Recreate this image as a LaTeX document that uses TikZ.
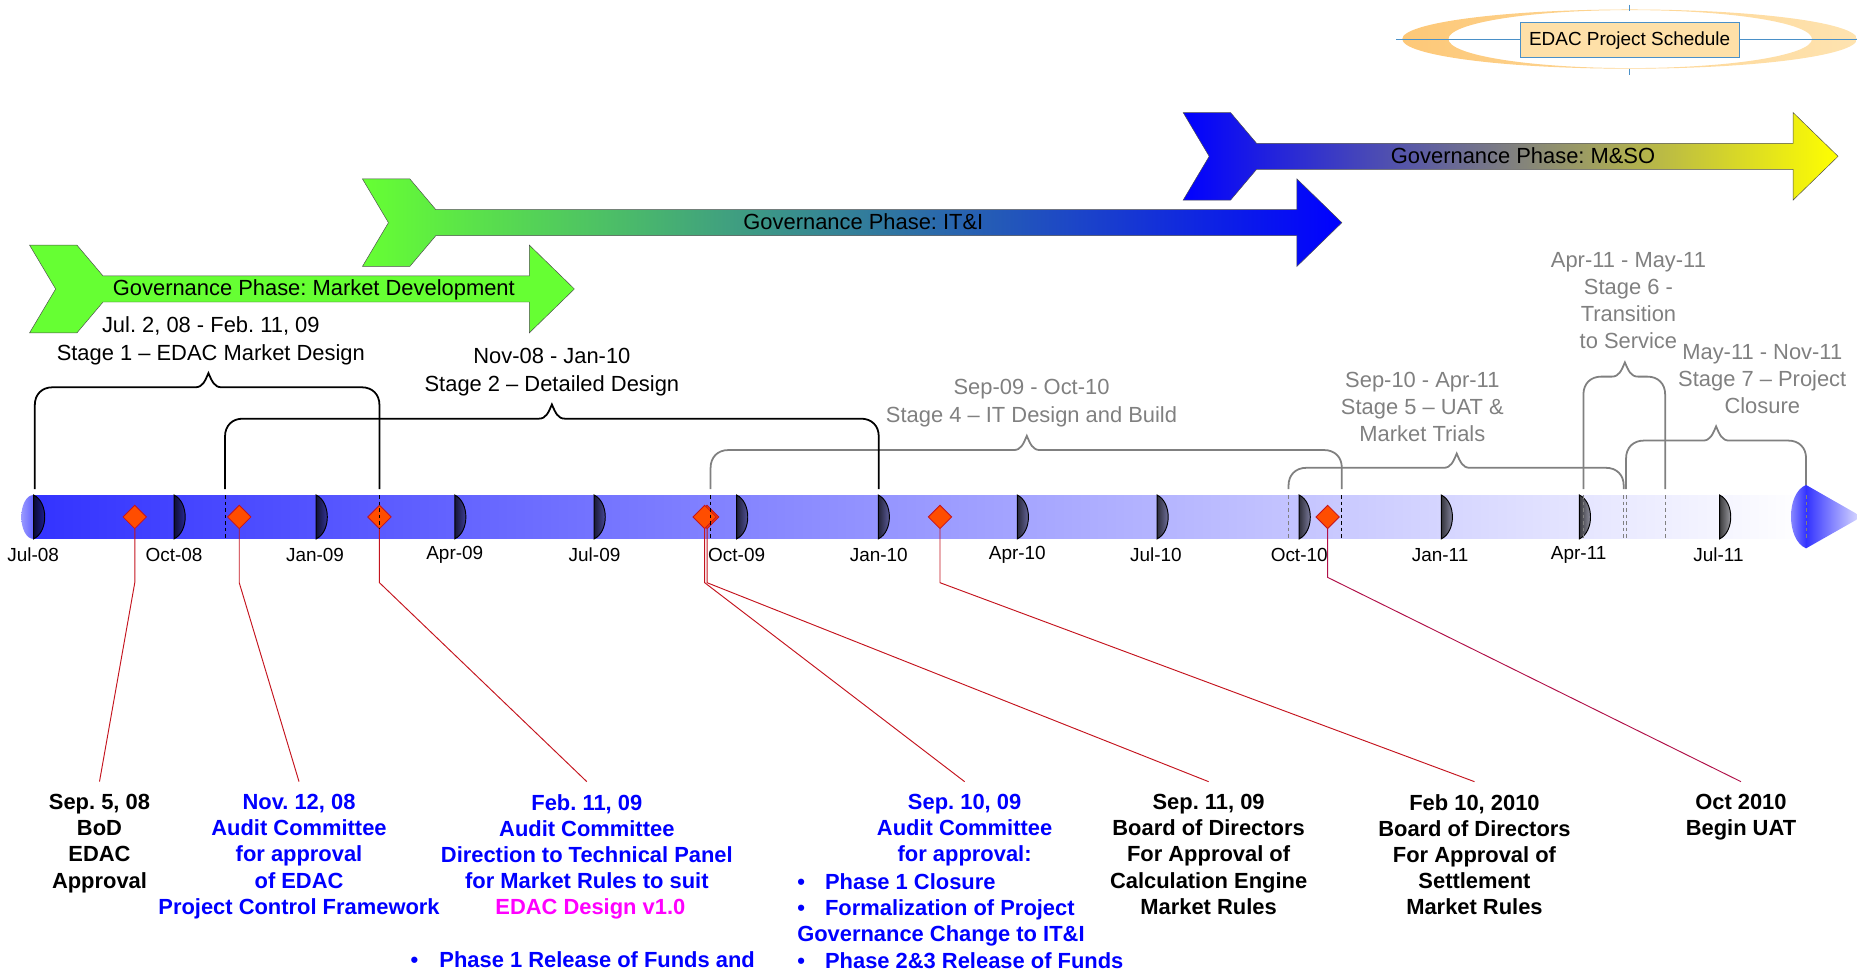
\documentclass[tikz,border=0pt]{standalone}
\usepackage{fontspec}
\setmainfont{Liberation Sans}
\frenchspacing
\usetikzlibrary{shapes.geometric, positioning}
\definecolor{barblue}{HTML}{3333FF}
\definecolor{govgreen}{HTML}{66FF33}
\definecolor{markred}{HTML}{FF4D00}
\definecolor{leadred}{HTML}{C4141E}
\definecolor{leadcrimson}{HTML}{B01048}
\definecolor{edacpink}{HTML}{FF00FF}
\definecolor{stagegray}{HTML}{808080}
\definecolor{ringorange}{HTML}{FDC878}
\definecolor{ringpale}{HTML}{FEE3B0}
\definecolor{titleblue}{HTML}{4A90C8}
\definecolor{titlefill}{HTML}{FEE0A8}
\newcommand{\govarrow}[5]{%
  \shadedraw[draw=black!70,line width=0.4pt,left color=#4,right color=#5]
    (#1,#3-37) -- (#1+40,#3-37) -- (#1+62,#3-11) -- (#2-38,#3-11) -- (#2-38,#3-37)
    -- (#2,#3) -- (#2-38,#3+37) -- (#2-38,#3+11) -- (#1+62,#3+11) -- (#1+40,#3+37)
    -- (#1,#3+37) -- (#1+22,#3) -- cycle;}
\newcommand{\stagebrace}[5]{%
  \draw[#5,line width=1.5pt] (#1,413) -- (#1,#4+15)
    .. controls (#1,#4+6) and (#1+6,#4) .. (#1+15,#4) -- (#3-11,#4)
    .. controls (#3-5,#4) and (#3-3,#4-5) .. (#3,#4-12)
    .. controls (#3+3,#4-5) and (#3+5,#4) .. (#3+11,#4) -- (#2-15,#4)
    .. controls (#2-6,#4) and (#2,#4+6) .. (#2,#4+15) -- (#2,413);}
\tikzset{
  basefont/.style={font=\fontsize{18.5}{22.7}\selectfont},
  govtext/.style={basefont,inner sep=0pt},
  stagetext/.style={basefont,align=center,inner sep=0pt},
  monthlabel/.style={font=\fontsize{16}{19}\selectfont,inner sep=0pt},
  milestone/.style={font=\bfseries\fontsize{18.5}{22.1}\selectfont,align=center,anchor=north,inner xsep=0pt,inner ysep=10.5pt},
  markdiamond/.style={diamond,draw=leadred,line width=0.7pt,fill=markred,minimum width=20pt,minimum height=20pt,inner sep=0pt},
  leader/.style={leadred,line width=0.8pt},
  stagedash/.style={line width=0.7pt,dash pattern=on 3pt off 2.5pt}
}
\begin{document}
\begin{tikzpicture}[x=1pt,y=-1pt]
  \useasboundingbox (0,0) rectangle (1568,820);
  \clip (0,0) rectangle (1568,820);
  % title badge
  \path[even odd rule,left color=ringorange,middle color=ringpale!40!white,right color=ringpale]
    (1376,33) ellipse [x radius=192,y radius=25] (1376.5,33) ellipse [x radius=153.5,y radius=24.5];
  \coordinate (titleL) at (1179,33);
  \coordinate (titleR) at (1568,33);
  \coordinate (titleT) at (1375.6,4);
  \coordinate (titleTb) at (1375.6,9);
  \coordinate (titleB) at (1375.6,58);
  \coordinate (titleBb) at (1375.6,63);
  \draw[titleblue,line width=0.8pt] (titleL) -- (titleR);
  \draw[titleblue,line width=0.8pt] (titleT) -- (titleTb);
  \draw[titleblue,line width=0.8pt] (titleB) -- (titleBb);
  \node[draw=titleblue,line width=0.8pt,fill=titlefill,font=\fontsize{16}{19}\selectfont,
        minimum width=185pt,minimum height=30pt,inner sep=0pt] (title) at (1376,33.6) {\raisebox{-1pt}[\height][\depth]{EDAC Project Schedule}};
  % governance phases
  \govarrow{999}{1552}{132}{blue}{yellow}
  \govarrow{306}{1133}{188}{govgreen}{blue}
  \govarrow{25}{485}{244}{govgreen}{govgreen}
  \node[govtext] (gov1) at (265,245) {Governance Phase: Market Development};
  \node[govtext] (gov2) at (729,187.5) {Governance Phase: IT\&I};
  \node[govtext] (gov3) at (1286,131.5) {Governance Phase: M\&SO};
  % stage braces
  \stagebrace{600}{1133}{867}{380}{stagegray}
  \stagebrace{1088}{1371}{1230}{395}{stagegray}
  \stagebrace{1337}{1406}{1372}{318}{stagegray}
  \stagebrace{1373}{1525}{1449}{372}{stagegray}
  \stagebrace{29.4}{320.4}{176}{327}{black}
  \stagebrace{190}{742}{466}{353.5}{black}
  \node[stagetext] (stage1) at (178,288) {Jul. 2, 08 - Feb. 11, 09\\[1.3pt]Stage 1 – EDAC Market Design};
  \node[stagetext] (stage2) at (466,314) {Nov-08 - Jan-10\\[1.3pt]Stage 2 – Detailed Design};
  \node[stagetext,stagegray] (stage4) at (871,340.5) {Sep-09 - Oct-10\\[1.3pt]Stage 4 – IT Design and Build};
  \node[stagetext,stagegray] (stage5) at (1201,343.5) {Sep-10 - Apr-11\\Stage 5 – UAT \&\\Market Trials};
  \node[stagetext,stagegray] (stage6) at (1375,254) {Apr-11 - May-11\\Stage 6 -\\Transition\\to Service};
  \node[stagetext,stagegray] (stage7) at (1488,320) {May-11 - Nov-11\\Stage 7 – Project\\Closure};
  % time bar
  \shade[left color=barblue!50!white,right color=barblue] (28,436.5) ellipse [x radius=10,y radius=18.5];
  \shade[left color=barblue,right color=white] (28,418) rectangle (1525,455);
  \shade[left color=barblue!45!white,right color=barblue]
    (1525,409.5) .. controls (1508,416) and (1508,456) .. (1525,463) -- cycle;
  \shade[left color=barblue,right color=barblue!15!white] (1525,409.5) -- (1572,436.3) -- (1525,463) -- cycle;
  \foreach \x/\m/\lx in {28.4/Jul-08/28,147/Oct-08/147,267/Jan-09/266,384/Apr-09/384,501.7/Jul-09/502,622/Oct-09/622,741.6/Jan-10/742,859/Apr-10/859,977/Jul-10/976,1097/Oct-10/1097,1217/Jan-11/1216,1333.6/Apr-11/1333,1452/Jul-11/1451}{
    \pgfmathsetmacro{\fadept}{100-(\x-28)/14.97}
    \shadedraw[draw=black,line width=0.8pt,left color=black!80!barblue!\fadept!darkgray,right color=black!30!barblue!\fadept!lightgray]
      (\x,418) .. controls (\x+12.5,424) and (\x+12.5,449) .. (\x,455) -- cycle;
    \node[monthlabel] (lbl\m) at (\lx,468.5) {\m};
  }
  % milestones
  \node[markdiamond] (d1) at (113.8,436.5) {};
  \node[markdiamond] (d2) at (202,436.5) {};
  \node[markdiamond] (d3) at (320.4,436.5) {};
  \node[markdiamond] (d5) at (597,436.5) {};
  \node[markdiamond] (d4) at (595,436.5) {};
  \node[markdiamond] (d6) at (793.7,436.5) {};
  \node[markdiamond] (d7) at (1121,436.5) {};
  \foreach \x in {190,320.5,600,742,1133}
    \draw[stagedash] (\x,418) -- (\x,455);
  \foreach \x in {1088,1337,1371,1373,1406,1525}
    \draw[stagedash,stagegray] (\x,418) -- (\x,455);
  \node[milestone] (n1) at (84,660) {Sep. 5, 08\\BoD\\EDAC\\Approval};
  \node[milestone,blue] (n2) at (252.5,660) {Nov. 12, 08\\Audit Committee\\for approval\\of EDAC\\Project Control Framework};
  \node[milestone,blue] (n3) at (495.5,660) {Feb. 11, 09\\Audit Committee\\Direction to Technical Panel\\for Market Rules to suit\\\hspace*{6pt}{\color{edacpink}EDAC Design v1.0}\\[22.1pt]\textbullet\hspace{18pt}Phase 1 Release of Funds and\hspace*{7pt}};
  \node[milestone,blue] (n4) at (814.5,660) {Sep. 10, 09\\Audit Committee\\for approval:};
  \node[milestone,blue,align=left,anchor=north west,inner ysep=0pt] (n4b) at (673,737.5) {\textbullet\hspace{17pt}Phase 1 Closure\\\textbullet\hspace{17pt}Formalization of Project\\Governance Change to IT\&I\\\textbullet\hspace{17pt}Phase 2\&3 Release of Funds};
  \node[milestone] (n5) at (1020.5,660) {Sep. 11, 09\\Board of Directors\\For Approval of\\Calculation Engine\\Market Rules};
  \node[milestone] (n6) at (1245,660) {Feb 10, 2010\\Board of Directors\\For Approval of\\Settlement\\Market Rules};
  \node[milestone] (n7) at (1470,660) {Oct 2010\\Begin UAT};
  \coordinate (bendA) at (0,492);
  \coordinate (bendB) at (0,487.5);
  \draw[leader] (d1.south) -- (d1.south |- bendA) -- (n1.north);
  \draw[leader] (d2.south) -- (d2.south |- bendA) -- (n2.north);
  \draw[leader] (d3.south) -- (d3.south |- bendA) -- (n3.north);
  \draw[leader] (d4.south) -- (d4.south |- bendA) -- (n4.north);
  \draw[leader] (d5.south) -- (d5.south |- bendA) -- (n5.north);
  \draw[leader] (d6.south) -- (d6.south |- bendA) -- (n6.north);
  \draw[leader,leadcrimson] (d7.south) -- (d7.south |- bendB) -- (n7.north);
\end{tikzpicture}
\end{document}
